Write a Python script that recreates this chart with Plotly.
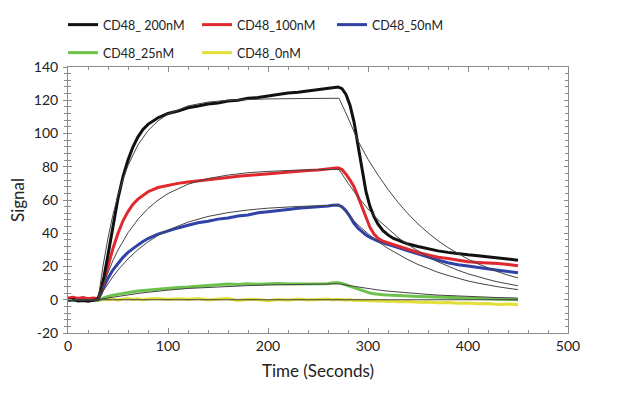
import plotly.graph_objects as go

# ---------------- data ----------------
t_meas = [0, 5, 10, 15, 20, 25, 30, 33, 36, 40, 45, 50, 55, 60, 65, 70, 75, 80, 90, 100,
          110, 120, 130, 140, 150, 160, 170, 180, 190, 200, 210, 220, 230, 240, 250, 260,
          265, 270, 274, 278, 282, 286, 290, 294, 298, 302, 306, 310, 315, 320, 325, 330,
          340, 350, 360, 370, 380, 390, 400, 410, 420, 430, 440, 450]

cd48_200 = [-0.5, 0.3, -0.8, -0.4, -0.9, -0.3, 0.2, 6, 14, 27, 45, 61, 74, 84, 92, 98, 102.5, 105.5, 109.5, 112,
            113.5, 115.5, 116.5, 117.8, 118.3, 119.5, 120, 121.2, 121.6, 122.6, 123.2, 124.3, 124.8, 125.6, 126.2, 127,
            127.6, 128, 127, 123.5, 117, 107, 93, 78, 65, 56, 50, 45.5, 41.5, 39, 37, 35.8,
            33.5, 32, 30.6, 29.4, 28.5, 27.6, 27, 26.5, 25.8, 25.4, 24.6, 23.8]

cd48_100 = [1, 1.5, 0.8, 1.3, 0.6, 1.1, 0.8, 5, 11, 20, 31, 40, 47.5, 53, 57.5, 60.5, 63, 65, 67.5, 68.8,
            70, 70.8, 71.4, 72.4, 72.8, 73.6, 74.3, 74.8, 75.6, 76, 76.3, 77, 77.2, 77.8, 78.1, 78.6,
            79.2, 79.4, 78.3, 75.5, 72, 68, 62, 55.5, 49, 43.5, 39.5, 37, 35.2, 34.2, 33.2, 32.3,
            30.2, 28.4, 27, 25.6, 24.8, 23.6, 22.8, 22.4, 22.2, 21.8, 21.2, 20.4]

cd48_50 = [0.3, -0.2, 0.8, 0.2, 0.5, -0.2, 0.3, 3.5, 8, 13, 18, 22, 25.5, 28.5, 31, 33, 35, 36.8, 39.5, 41.5,
           43.2, 44.8, 46.3, 47.2, 48.5, 49.2, 50.4, 51, 52.3, 52.9, 53.8, 54.3, 55, 55.4, 56, 56.4,
           56.9, 57, 56, 53.5, 50, 46, 43, 40.8, 39, 37.5, 36.3, 35.3, 34.3, 33.2, 32.2, 31.4,
           29.5, 27.6, 25.4, 23.8, 22.3, 21, 20.3, 19.6, 18.6, 17.8, 17, 16.2]

cd48_25 = [0.2, -0.5, 0.3, -0.3, 0.1, -0.4, -0.5, 0.5, 1.2, 2, 2.8, 3.4, 4, 4.5, 4.8, 5.3, 5.6, 6, 6.6, 7,
           7.4, 7.6, 8, 8.3, 8.8, 9.4, 9.2, 9.6, 9.3, 9.7, 9.8, 9.5, 9.6, 9.3, 9.4, 9.6,
           10.2, 10.3, 9.8, 9, 8.2, 7.2, 6.2, 5.4, 4.6, 4, 3.6, 3.2, 3, 2.8, 2.6, 2.4,
           2.2, 2, 1.8, 1.6, 1.5, 1.3, 1.2, 1.1, 0.9, 0.6, 0.2, 0]

cd48_0 = [0.3, -0.4, 0.2, -0.3, 0.4, -0.2, 0.3, -0.3, 0.4, 0, 0.5, -0.3, 0.4, 0.8, 0.2, 0.6, -0.2, 0.4, 0.8, 0.2,
          0.6, 0.1, 0.7, -0.2, 0.4, 0.8, -0.5, 0.3, 0.1, -0.6, 0.2, -0.3, 0.4, -0.2, 0.1, 0.5,
          -0.2, 0.3, 0, -0.3, 0.2, -0.4, -0.2, -0.6, -0.3, -0.8, -0.5, -0.9, -0.6, -1.1, -0.8, -1.2,
          -1, -1.5, -1.3, -1.8, -1.6, -2.1, -1.9, -2.4, -2.2, -2.8, -2.6, -3]

t_fit = [0, 30, 35, 40, 45, 50, 55, 60, 70, 80, 90, 100, 120, 140, 160, 180, 200, 230, 271,
         280, 290, 300, 310, 320, 330, 340, 350, 360, 370, 380, 390, 400, 410, 420, 430, 440, 450]

fit_200 = [0, 0, 20.3, 37.1, 51.3, 62.9, 72.6, 80.8, 93.2, 101.7, 107.6, 111.7, 116.6, 118.9, 120, 120.5, 120.8, 121, 121.2,
           109.5, 95.5, 84.5, 75, 66.4, 58.6, 51.7, 45.6, 40.3, 35.5, 31.4, 27.7, 24.4, 21.6, 19, 16.8, 14.8, 13.1]
fit_100 = [0, 0, 8.9, 16.7, 23.7, 29.9, 35.4, 40.3, 48.4, 54.9, 59.9, 63.9, 69.5, 72.9, 75, 76.4, 77.2, 78, 78.4,
           70.1, 61.9, 54.6, 48.1, 42.5, 37.5, 33.1, 29.2, 25.8, 22.8, 20.1, 17.7, 15.6, 13.8, 12.2, 10.7, 9.5, 8.4]
fit_50 = [0, 0, 5.1, 9.8, 14, 17.9, 21.4, 24.6, 30.2, 34.8, 38.7, 41.9, 46.7, 50.1, 52.4, 54, 55.1, 56.1, 56.9,
          51, 45, 39.7, 35, 30.9, 27.3, 24.1, 21.2, 18.8, 16.5, 14.6, 12.9, 11.3, 10, 8.8, 7.8, 6.9, 6.1]
fit_25 = [0, 0, 0.6, 1.1, 1.6, 2.1, 2.6, 3, 3.8, 4.5, 5.2, 5.8, 6.8, 7.5, 8.1, 8.5, 8.9, 9.3, 9.6,
          8.6, 7.6, 6.7, 5.9, 5.2, 4.6, 4, 3.6, 3.2, 2.8, 2.5, 2.2, 1.9, 1.7, 1.5, 1.3, 1.2, 1]
fit_0 = [0] * len(t_fit)

series_names = ["CD48_ 200nM", "CD48_100nM", "CD48_50nM", "CD48_25nM", "CD48_0nM"]
series_colors = ["#111111", "#e0282e", "#2f42a8", "#6cc24a", "#e2e038"]
series_values = [cd48_200, cd48_100, cd48_50, cd48_25, cd48_0]
fit_values = [fit_200, fit_100, fit_50, fit_25, fit_0]

x_ticks = [0, 100, 200, 300, 400, 500]
y_ticks = [-20, 0, 20, 40, 60, 80, 100, 120, 140]

# ---------------- figure ----------------
FONT = "Lato, 'Open Sans', sans-serif"
TXT = "#222222"
fig = go.Figure()

legend_ids = ["legend", "legend2", "legend3", "legend4", "legend5"]
# draw order: yellow, green, blue, red, black
for i in [4, 3, 2, 1, 0]:
    fig.add_trace(go.Scatter(
        x=t_meas, y=series_values[i], mode="lines", name=series_names[i],
        line=dict(color=series_colors[i], width=3), legend=legend_ids[i]))

for i in range(5):
    fig.add_trace(go.Scatter(
        x=t_fit, y=fit_values[i], mode="lines", showlegend=False,
        line=dict(color="#454545", width=1), yaxis="y2" if i == 4 else "y"))

axis_col = "#8a8a8a"
L, R, T, B = 68, 50, 67, 60
W, H = 618, 393

# legend box left edges / row centres in page pixels
legend_pos = [(63, 25), (197, 25), (332, 25), (63, 53), (197, 53)]
layout_legends = {}
for lid, (px, py) in zip(legend_ids, legend_pos):
    layout_legends[lid] = dict(
        x=px / W, y=1 - py / H, xref="container", yref="container",
        xanchor="left", yanchor="middle",
        orientation="h", bgcolor="rgba(0,0,0,0)", borderwidth=0,
        font=dict(family=FONT, size=12.5, color=TXT), itemwidth=30)

fig.update_layout(
    width=W, height=H,
    margin=dict(l=L, r=R, t=T, b=B, autoexpand=False),
    paper_bgcolor="white", plot_bgcolor="white",
    font=dict(family=FONT, size=14, color=TXT),
    showlegend=True,
    xaxis=dict(
        range=[0, 500], tickvals=x_ticks, ticktext=[str(v) for v in x_ticks],
        showline=True, linecolor=axis_col, linewidth=1, mirror="ticks",
        ticks="inside", ticklen=5, tickcolor=axis_col, automargin=False,
        minor=dict(dtick=20, tick0=0, ticks="inside", ticklen=3, tickcolor=axis_col),
        showgrid=False, zeroline=False,
        tickfont=dict(family=FONT, size=14, color=TXT),
        title=dict(text="Time (Seconds)", font=dict(family=FONT, size=17, color=TXT), standoff=12),
    ),
    yaxis=dict(
        range=[-20, 140], tickvals=y_ticks, ticktext=[str(v) for v in y_ticks],
        showline=True, linecolor=axis_col, linewidth=1, mirror="ticks",
        ticks="inside", ticklen=4, tickcolor=axis_col, automargin=False,
        minor=dict(dtick=4, tick0=0, ticks="inside", ticklen=3, tickcolor=axis_col),
        showgrid=False, zeroline=False, ticklabelstandoff=6,
        tickfont=dict(family=FONT, size=14, color=TXT),
        title=dict(text="Signal", font=dict(family=FONT, size=17, color=TXT), standoff=4),
    ),
    yaxis2=dict(
        range=[-20, 140], overlaying="y", side="left", tickvals=y_ticks,
        showticklabels=False, showline=False, ticks="outside", ticklen=4, tickcolor=axis_col,
        minor=dict(dtick=4, tick0=0, ticks="outside", ticklen=3, tickcolor=axis_col),
        showgrid=False, zeroline=False, automargin=False,
    ),
    **layout_legends,
)

fig.write_html("out.html", config={"displayModeBar": False},
               post_script="document.body.style.margin='0';")
